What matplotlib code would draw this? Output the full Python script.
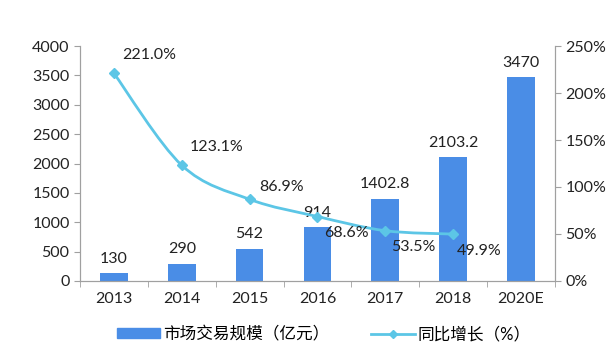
import matplotlib.pyplot as plt
from matplotlib.path import Path
from matplotlib.patches import PathPatch, Patch
from matplotlib.lines import Line2D
import numpy as np

plt.rcParams['font.family'] = ['Lato', 'Noto Sans CJK SC', 'DejaVu Sans']

years = ['2013', '2014', '2015', '2016', '2017', '2018', '2020E']
scale = [130, 290, 542, 914, 1402.8, 2103.2, 3470]
scale_labels = ['130', '290', '542', '914', '1402.8', '2103.2', '3470']
growth = [221.0, 123.1, 86.9, 68.6, 53.5, 49.9]

bar_color = '#4a8de6'
line_color = '#5cc6e6'
axis_color = '#a0a0a0'
txt = '#222222'
fs = 11.5

fig = plt.figure(figsize=(6.11, 3.57), dpi=100)
ax = fig.add_axes([0.131, 0.213, 0.777, 0.658])
ax2 = ax.twinx()

x = np.arange(len(years))
ax.bar(x, scale, width=0.41, color=bar_color, zorder=2)
for xi, v, s in zip(x, scale, scale_labels):
    ax.text(xi, v + 130, s, ha='center', va='bottom', fontsize=fs, color=txt)

ax.set_ylim(0, 4000)
ax.set_yticks(range(0, 4001, 500))
ax.set_xlim(-0.5, len(years) - 0.5)
ax.set_xticks(x)
ax.set_xticklabels(years)
ax.set_xticks(np.arange(-0.5, len(years), 1), minor=True)
ax.tick_params(axis='x', which='major', length=0, pad=8)
ax.tick_params(axis='x', which='minor', length=4, color=axis_color)
ax.tick_params(axis='y', length=4, color=axis_color)
ax.tick_params(labelsize=fs, labelcolor=txt)

ax2.set_ylim(0, 250)
ax2.set_yticks(range(0, 251, 50))
ax2.set_yticklabels([f'{v}%' for v in range(0, 251, 50)])
ax2.tick_params(axis='y', length=4, color=axis_color, labelsize=fs, labelcolor=txt)

for a in (ax, ax2):
    a.spines['top'].set_visible(False)
    for s in ('left', 'right', 'bottom'):
        a.spines[s].set_color(axis_color)

# smoothed line: Catmull-Rom drawn as Bezier curves through the data points
gx = x[:len(growth)]
pts = np.column_stack([gx, growth])
verts = [pts[0]]
codes = [Path.MOVETO]
for i in range(len(pts) - 1):
    p0 = pts[i - 1] if i > 0 else pts[i]
    p1 = pts[i]
    p2 = pts[i + 1]
    p3 = pts[i + 2] if i + 2 < len(pts) else pts[i + 1]
    c1 = p1 + (p2 - p0) / 6
    c2 = p2 - (p3 - p1) / 6
    verts += [c1, c2, p2]
    codes += [Path.CURVE4] * 3
ax2.add_patch(PathPatch(Path(verts, codes), fill=False, edgecolor=line_color, lw=2, zorder=3))
ax2.plot(gx, growth, ls='none', marker='D', ms=5.5, color=line_color, zorder=4)

offsets = [(6, 8, 'left', 'bottom'), (6, 8, 'left', 'bottom'), (7, 4, 'left', 'bottom'),
           (5, -7, 'left', 'top'), (4, -7, 'left', 'top'), (3, -7, 'left', 'top')]
for xi, v, (dx, dy, ha, va) in zip(gx, growth, offsets):
    ax2.annotate(f'{v:.1f}%', (xi, v), xytext=(dx, dy), textcoords='offset points',
                 ha=ha, va=va, fontsize=fs, color=txt)

handles = [Patch(color=bar_color, label='市场交易规模（亿元）'),
           Line2D([0], [0], color=line_color, lw=2, marker='D', ms=4, label='同比增长（%）')]
fig.legend(handles=handles, loc='lower center', bbox_to_anchor=(0.53, 0.0), ncol=2,
           frameon=False, fontsize=12, handlelength=2.6, handleheight=0.5, columnspacing=2.5,
           handletextpad=0.2)

fig.savefig('out.png', dpi=100)
